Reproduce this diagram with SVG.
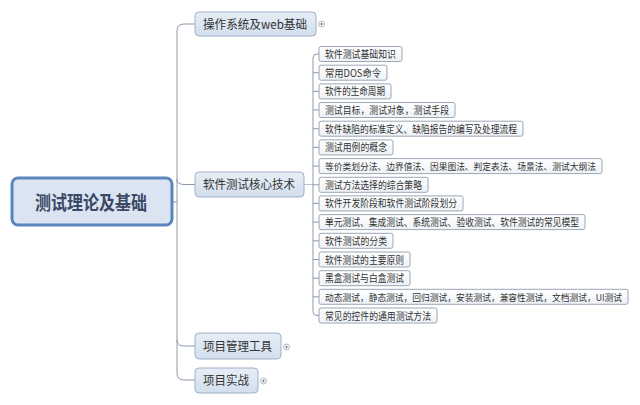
<svg xmlns="http://www.w3.org/2000/svg" width="640" height="405" viewBox="0 0 640 405">
<defs>
<linearGradient id="gBranch" x1="0" y1="0" x2="0" y2="1">
<stop offset="0" stop-color="#e6edf6"/><stop offset="1" stop-color="#d3dfee"/>
</linearGradient>
<linearGradient id="gLeaf" x1="0" y1="0" x2="0" y2="1">
<stop offset="0" stop-color="#ffffff"/><stop offset="1" stop-color="#eef2f7"/>
</linearGradient>
<style>
.root{fill:#dbe5f2;stroke:#5b86bd;stroke-width:3}
.rootT{font-family:"Noto Sans CJK SC","Noto Sans",sans-serif;font-size:19px;font-weight:bold;fill:#3a4966}
.br{fill:url(#gBranch);stroke:#9fb0c8;stroke-width:1}
.brT{font-family:"Noto Sans CJK SC","Noto Sans",sans-serif;font-size:12px;fill:#333}
.lf{fill:url(#gLeaf);stroke:#9ca6b4;stroke-width:1}
.lfT{font-family:"Noto Sans CJK SC","Noto Sans",sans-serif;font-size:10.5px;fill:#333}
.lfS{font-size:9.2px}
.cn{fill:none;stroke:#8f9aab;stroke-width:1}
.cnl{fill:none;stroke:#b9c2cf;stroke-width:1}
.ic{fill:#fff;stroke:#9aa3ae;stroke-width:0.8}
.icp{stroke:#6d7683;stroke-width:0.8}
</style>
</defs>
<rect width="640" height="405" fill="#ffffff"/>

<g id="connectors">
<path class="cn" d="M172,202 H177"/>
<path class="cn" d="M195,24 H184 Q177,24 177,31 V373 Q177,380 184,380 H195"/>
<path class="cn" d="M177,179 Q177,184.5 184,184.5 H195"/>
<path class="cn" d="M177,340 Q177,346 184,346 H195"/>
<path class="cnl" d="M304,184.5 H313"/>
<path class="cn" d="M319,54 H317 Q313,54 313,58 V311.5 Q313,315.5 317,315.5 H319"/>
<path class="cn" d="M313,72.7 H319 M313,91.4 H319 M313,110 H319 M313,128.7 H319 M313,147.4 H319 M313,166.1 H319 M313,184.8 H319 M313,203.4 H319 M313,222.1 H319 M313,240.8 H319 M313,259.5 H319 M313,278.2 H319 M313,296.8 H319"/>
</g>

<g id="root">
<rect class="root" x="12" y="178" width="160" height="47" rx="6"/>
<text class="rootT" x="91" y="210" text-anchor="middle" textLength="112" lengthAdjust="spacingAndGlyphs">测试理论及基础</text>
</g>

<g id="b1">
<rect class="br" x="195" y="12" width="121" height="24" rx="4"/>
<text class="brT" x="203" y="28.5" textLength="104" lengthAdjust="spacingAndGlyphs">操作系统及web基础</text>
<circle class="ic" cx="321.5" cy="24" r="3"/>
<path class="icp" d="M320,24 H323 M321.5,22.5 V25.5"/>
</g>

<g id="b2">
<rect class="br" x="195" y="172" width="109" height="25" rx="4"/>
<text class="brT" x="203" y="189" textLength="92" lengthAdjust="spacingAndGlyphs">软件测试核心技术</text>
</g>

<g id="b3">
<rect class="br" x="195" y="333" width="86" height="26" rx="4"/>
<text class="brT" x="203" y="350.5" textLength="69" lengthAdjust="spacingAndGlyphs">项目管理工具</text>
<circle class="ic" cx="286.5" cy="347" r="3"/>
<path class="icp" d="M285,347 H288 M286.5,345.5 V348.5"/>
</g>

<g id="b4">
<rect class="br" x="195" y="368" width="63" height="25" rx="4"/>
<text class="brT" x="203" y="385" textLength="46" lengthAdjust="spacingAndGlyphs">项目实战</text>
<circle class="ic" cx="263.5" cy="381" r="3"/>
<path class="icp" d="M262,381 H265 M263.5,379.5 V382.5"/>
</g>

<g id="l1"><rect class="lf" x="319" y="46.5" width="83" height="15" rx="2"/><text class="lfT" x="325" y="58" textLength="71" lengthAdjust="spacingAndGlyphs">软件测试基础知识</text></g>
<g id="l2"><rect class="lf" x="319" y="65.2" width="68" height="15" rx="2"/><text class="lfT" x="325" y="76.7" textLength="56" lengthAdjust="spacingAndGlyphs">常用DOS命令</text></g>
<g id="l3"><rect class="lf" x="319" y="83.9" width="72" height="15" rx="2"/><text class="lfT" x="325" y="95.4" textLength="60" lengthAdjust="spacingAndGlyphs">软件的生命周期</text></g>
<g id="l4"><rect class="lf" x="319" y="102.5" width="136" height="15" rx="2"/><text class="lfT" x="325" y="114" textLength="124" lengthAdjust="spacingAndGlyphs">测试目标，测试对象，测试手段</text></g>
<g id="l5"><rect class="lf" x="319" y="121.2" width="204" height="15" rx="2"/><text class="lfT" x="325" y="132.7" textLength="192" lengthAdjust="spacingAndGlyphs">软件缺陷的标准定义、缺陷报告的编写及处理流程</text></g>
<g id="l6"><rect class="lf" x="319" y="139.9" width="74" height="15" rx="2"/><text class="lfT" x="325" y="151.4" textLength="62" lengthAdjust="spacingAndGlyphs">测试用例的概念</text></g>
<g id="l7"><rect class="lf" x="319" y="158.6" width="283" height="15" rx="2"/><text class="lfT lfS" x="325" y="169.8" textLength="271" lengthAdjust="spacingAndGlyphs">等价类划分法、边界值法、因果图法、判定表法、场景法、测试大纲法</text></g>
<g id="l8"><rect class="lf" x="319" y="177.3" width="109" height="15" rx="2"/><text class="lfT" x="325" y="188.8" textLength="97" lengthAdjust="spacingAndGlyphs">测试方法选择的综合策略</text></g>
<g id="l9"><rect class="lf" x="319" y="195.9" width="144" height="15" rx="2"/><text class="lfT" x="325" y="207.4" textLength="132" lengthAdjust="spacingAndGlyphs">软件开发阶段和软件测试阶段划分</text></g>
<g id="l10"><rect class="lf" x="319" y="214.6" width="266" height="15" rx="2"/><text class="lfT" x="325" y="226.1" textLength="254" lengthAdjust="spacingAndGlyphs">单元测试、集成测试、系统测试、验收测试、软件测试的常见模型</text></g>
<g id="l11"><rect class="lf" x="319" y="233.3" width="74" height="15" rx="2"/><text class="lfT" x="325" y="244.8" textLength="62" lengthAdjust="spacingAndGlyphs">软件测试的分类</text></g>
<g id="l12"><rect class="lf" x="319" y="252" width="91" height="15" rx="2"/><text class="lfT" x="325" y="263.5" textLength="79" lengthAdjust="spacingAndGlyphs">软件测试的主要原则</text></g>
<g id="l13"><rect class="lf" x="319" y="270.7" width="91" height="15" rx="2"/><text class="lfT" x="325" y="282.2" textLength="79" lengthAdjust="spacingAndGlyphs">黑盒测试与白盒测试</text></g>
<g id="l14"><rect class="lf" x="319" y="289.3" width="309" height="15" rx="2"/><text class="lfT lfS" x="325" y="300.5" textLength="297" lengthAdjust="spacingAndGlyphs">动态测试，静态测试，回归测试，安装测试，兼容性测试，文档测试，UI测试</text></g>
<g id="l15"><rect class="lf" x="319" y="308" width="118" height="15" rx="2"/><text class="lfT" x="325" y="319.5" textLength="106" lengthAdjust="spacingAndGlyphs">常见的控件的通用测试方法</text></g>
</svg>
